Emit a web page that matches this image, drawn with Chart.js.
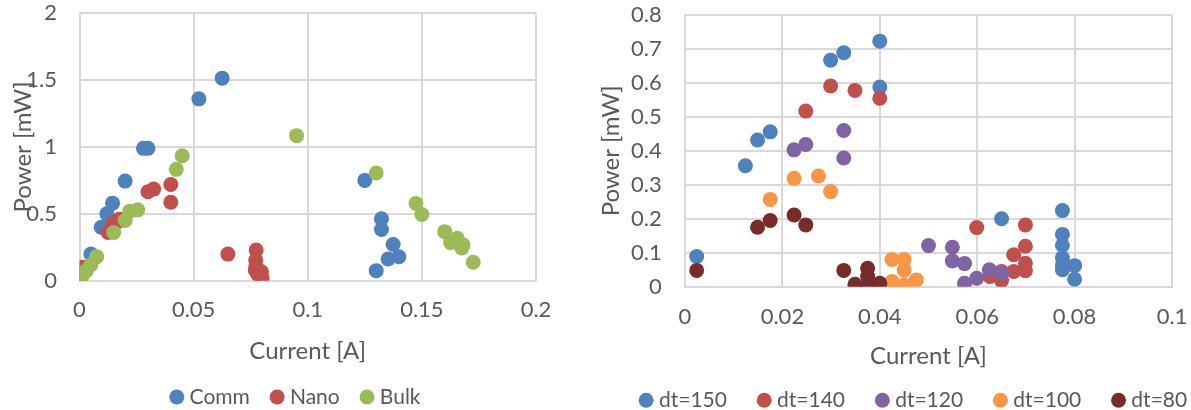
<!DOCTYPE html>
<html>
<head>
<meta charset="utf-8">
<script src="https://cdn.jsdelivr.net/npm/chart.js@4.4.1/dist/chart.umd.min.js"></script>
<style>
  html, body { margin: 0; padding: 0; background: #fff; }
  body { width: 1191px; height: 410px; position: relative; overflow: hidden; }
  .panel { position: absolute; top: 0; height: 410px; }
  #left { left: 0; width: 595px; }
  #right { left: 560px; width: 631px; }
</style>
</head>
<body>
<div class="panel" id="left"><canvas id="chartLeft" width="595" height="410"></canvas></div>
<div class="panel" id="right"><canvas id="chartRight" width="631" height="410"></canvas></div>
<script>
/* ---- Data: left panel (material comparison) ---- */
const leftNames = ['Comm', 'Nano', 'Bulk'];
const leftColors = ['#4F81BD', '#C0504D', '#9BBB59'];

const commX = [0, 0.005, 0.0095, 0.012, 0.0145, 0.02, 0.028, 0.030, 0.0523, 0.0625, 0.125, 0.130, 0.1323, 0.1323, 0.1374, 0.1352, 0.1399];
const commY = [0, 0.2, 0.40, 0.50, 0.58, 0.745, 0.99, 0.99, 1.36, 1.515, 0.75, 0.075, 0.463, 0.383, 0.271, 0.162, 0.179];

const nanoX = [0, 0.0015, 0.0125, 0.0145, 0.0165, 0.0175, 0.030, 0.0325, 0.040, 0.040, 0.065, 0.0774, 0.0772, 0.0773, 0.077, 0.078, 0.0797, 0.080];
const nanoY = [0, 0.10, 0.36, 0.43, 0.44, 0.46, 0.665, 0.685, 0.72, 0.587, 0.199, 0.23, 0.155, 0.105, 0.08, 0.05, 0.067, 0.02];

const bulkX = [0, 0.001, 0.003, 0.005, 0.0075, 0.015, 0.020, 0.022, 0.0255, 0.0424, 0.045, 0.0951, 0.130, 0.1474, 0.150, 0.160, 0.1626, 0.1655, 0.168, 0.1675, 0.1725];
const bulkY = [0, 0.03, 0.075, 0.12, 0.18, 0.36, 0.45, 0.52, 0.53, 0.833, 0.935, 1.085, 0.805, 0.578, 0.495, 0.367, 0.285, 0.318, 0.268, 0.245, 0.138];

const leftXTicks = [0, 0.05, 0.1, 0.15, 0.2];
const leftYTicks = [0, 0.5, 1, 1.5, 2];

/* ---- Data: right panel (dt sweep) ---- */
const rightNames = ['dt=150', 'dt=140', 'dt=120', 'dt=100', 'dt=80'];
const rightColors = ['#4F81BD', '#C0504D', '#8064A2', '#F79646', '#772C2A'];

const dt150X = [0.0024, 0.0124, 0.0149, 0.0175, 0.0299, 0.0326, 0.040, 0.040, 0.065, 0.0775, 0.0775, 0.0775, 0.0775, 0.0775, 0.0775, 0.080, 0.080];
const dt150Y = [0.089, 0.356, 0.432, 0.456, 0.667, 0.689, 0.723, 0.588, 0.2, 0.224, 0.154, 0.122, 0.085, 0.064, 0.05, 0.062, 0.022];

const dt140X = [0.0248, 0.0299, 0.0349, 0.040, 0.0599, 0.0626, 0.065, 0.065, 0.0675, 0.0675, 0.0699, 0.0699, 0.0699, 0.0699];
const dt140Y = [0.517, 0.591, 0.578, 0.555, 0.174, 0.03, 0.045, 0.018, 0.094, 0.045, 0.182, 0.119, 0.069, 0.047];

const dt120X = [0.0224, 0.0248, 0.0326, 0.0326, 0.050, 0.0549, 0.0549, 0.0574, 0.0574, 0.0599, 0.0625, 0.065];
const dt120Y = [0.403, 0.419, 0.46, 0.379, 0.121, 0.116, 0.076, 0.068, 0.01, 0.025, 0.05, 0.04];

const dt100X = [0.0175, 0.0224, 0.0274, 0.0299, 0.0425, 0.045, 0.045, 0.0425, 0.045, 0.0475];
const dt100Y = [0.257, 0.319, 0.326, 0.28, 0.08, 0.08, 0.049, 0.015, 0.005, 0.02];

const dt80X = [0.0024, 0.0149, 0.0175, 0.0224, 0.0248, 0.0326, 0.0349, 0.0375, 0.0375, 0.0375, 0.040];
const dt80Y = [0.048, 0.175, 0.195, 0.211, 0.182, 0.048, 0.007, 0.054, 0.03, 0.005, 0.01];

const rightXTicks = [0, 0.02, 0.04, 0.06, 0.08, 0.1];
const rightYTicks = [0, 0.1, 0.2, 0.3, 0.4, 0.5, 0.6, 0.7, 0.8];

/* ---- Shared styling ---- */
const FONT = 'Lato, "Open Sans", sans-serif';
const TEXT_COLOR = '#595959';
const GRID_COLOR = '#D9D9D9';

Chart.defaults.font.family = FONT;
Chart.defaults.color = TEXT_COLOR;

/**
 * Slide the legend sideways after layout (the original legend is not
 * centred on the canvas).
 */
const legendShift = {
  id: 'legendShift',
  afterLayout(chart, args, opts) {
    const legend = chart.legend;
    if (legend && opts.dx) {
      legend.left += opts.dx;
      legend.right += opts.dx;
    }
  },
};

/**
 * Build scatter datasets; later series are drawn on top (Excel order).
 */
function _datasets(names, colors, xs, ys) {
  return names.map((name, i) => ({
    label: name,
    data: xs[i].map((x, j) => ({ x, y: ys[i][j] })),
    backgroundColor: colors[i],
    borderColor: colors[i],
    pointRadius: 7.5,
    pointHoverRadius: 7.5,
    pointBorderWidth: 0,
    showLine: false,
    order: -i,
  }));
}

function _fixedTicks(values) {
  return (scale) => { scale.ticks = values.map(v => ({ value: v })); };
}

// invisible tick marks are used as the gap between axis and labels
function _grid(gap) {
  return {
    color: GRID_COLOR,
    lineWidth: 2,
    drawTicks: true,
    tickLength: gap,
    tickColor: 'rgba(0,0,0,0)',
  };
}

/**
 * Build one panel's options. `geo` holds the pixel layout for that panel.
 */
function _options(geo, xTicks, yTicks) {
  const border = { color: GRID_COLOR, width: 2 };
  return {
    responsive: false,
    animation: false,
    events: [],
    layout: { padding: geo.padding },
    plugins: {
      legend: {
        position: 'bottom',
        labels: {
          usePointStyle: true,
          pointStyle: 'circle',
          boxWidth: 4.6,
          boxHeight: 10.6,
          padding: geo.legendPad,
          color: TEXT_COLOR,
          font: { size: 21 },
          sort: (a, b) => a.datasetIndex - b.datasetIndex,
        },
      },
      legendShift: { dx: geo.legendDx },
      tooltip: { enabled: false },
    },
    scales: {
      x: {
        type: 'linear',
        position: 'bottom',
        min: xTicks[0],
        max: xTicks[xTicks.length - 1],
        afterBuildTicks: _fixedTicks(xTicks),
        afterFit: (s) => { s.height = geo.xHeight; },
        grid: _grid(geo.xGap),
        border,
        ticks: {
          padding: 0,
          font: { size: 22 },
          color: TEXT_COLOR,
          maxRotation: 0,
          callback: (v) => String(v),
        },
        title: {
          display: true,
          text: 'Current [A]',
          font: { size: 24 },
          color: TEXT_COLOR,
          padding: { top: 0, bottom: geo.xTitlePad },
        },
      },
      y: {
        type: 'linear',
        position: 'left',
        min: yTicks[0],
        max: yTicks[yTicks.length - 1],
        afterBuildTicks: _fixedTicks(yTicks),
        afterFit: (s) => { s.width = geo.yWidth; },
        grid: _grid(geo.yGap),
        border,
        ticks: {
          padding: 0,
          font: { size: 22 },
          color: TEXT_COLOR,
          callback: (v) => String(v),
        },
        title: {
          display: true,
          text: 'Power [mW]',
          font: { size: 24 },
          color: TEXT_COLOR,
          padding: { top: geo.yTitlePad, bottom: 0 },
        },
      },
      // empty right-hand spacer keeps the plot's right edge where it was
      spacer: {
        type: 'linear',
        position: 'right',
        display: true,
        grid: { display: false },
        border: { display: false },
        ticks: { display: false },
        afterFit: (s) => { s.width = geo.spacer; },
      },
    },
  };
}

/* ---- Left panel ---- */
new Chart(document.getElementById('chartLeft'), {
  type: 'scatter',
  data: {
    datasets: _datasets(leftNames, leftColors, [commX, nanoX, bulkX], [commY, nanoY, bulkY]),
  },
  options: _options({
    padding: { left: 0, right: 0, top: 13.3, bottom: -7.5 },
    legendPad: 25,
    legendDx: 0,
    xHeight: 80.8,
    xGap: 15.7,
    xTitlePad: -4.6,
    yWidth: 79.5,
    yGap: 22.5,
    yTitlePad: 9,
    spacer: 59,
  }, leftXTicks, leftYTicks),
  plugins: [legendShift],
});

/* ---- Right panel ---- */
new Chart(document.getElementById('chartRight'), {
  type: 'scatter',
  data: {
    datasets: _datasets(rightNames, rightColors,
      [dt150X, dt140X, dt120X, dt100X, dt80X],
      [dt150Y, dt140Y, dt120Y, dt100Y, dt80Y]),
  },
  options: _options({
    padding: { left: 0, right: 0, top: 15, bottom: -10.8 },
    legendPad: 35,
    legendDx: 40,
    xHeight: 68.1,
    xGap: 17.4,
    xTitlePad: -16.3,
    yWidth: 125,
    yGap: 23.3,
    yTitlePad: 36.6,
    spacer: 19,
  }, rightXTicks, rightYTicks),
  plugins: [legendShift],
});
</script>
</body>
</html>
